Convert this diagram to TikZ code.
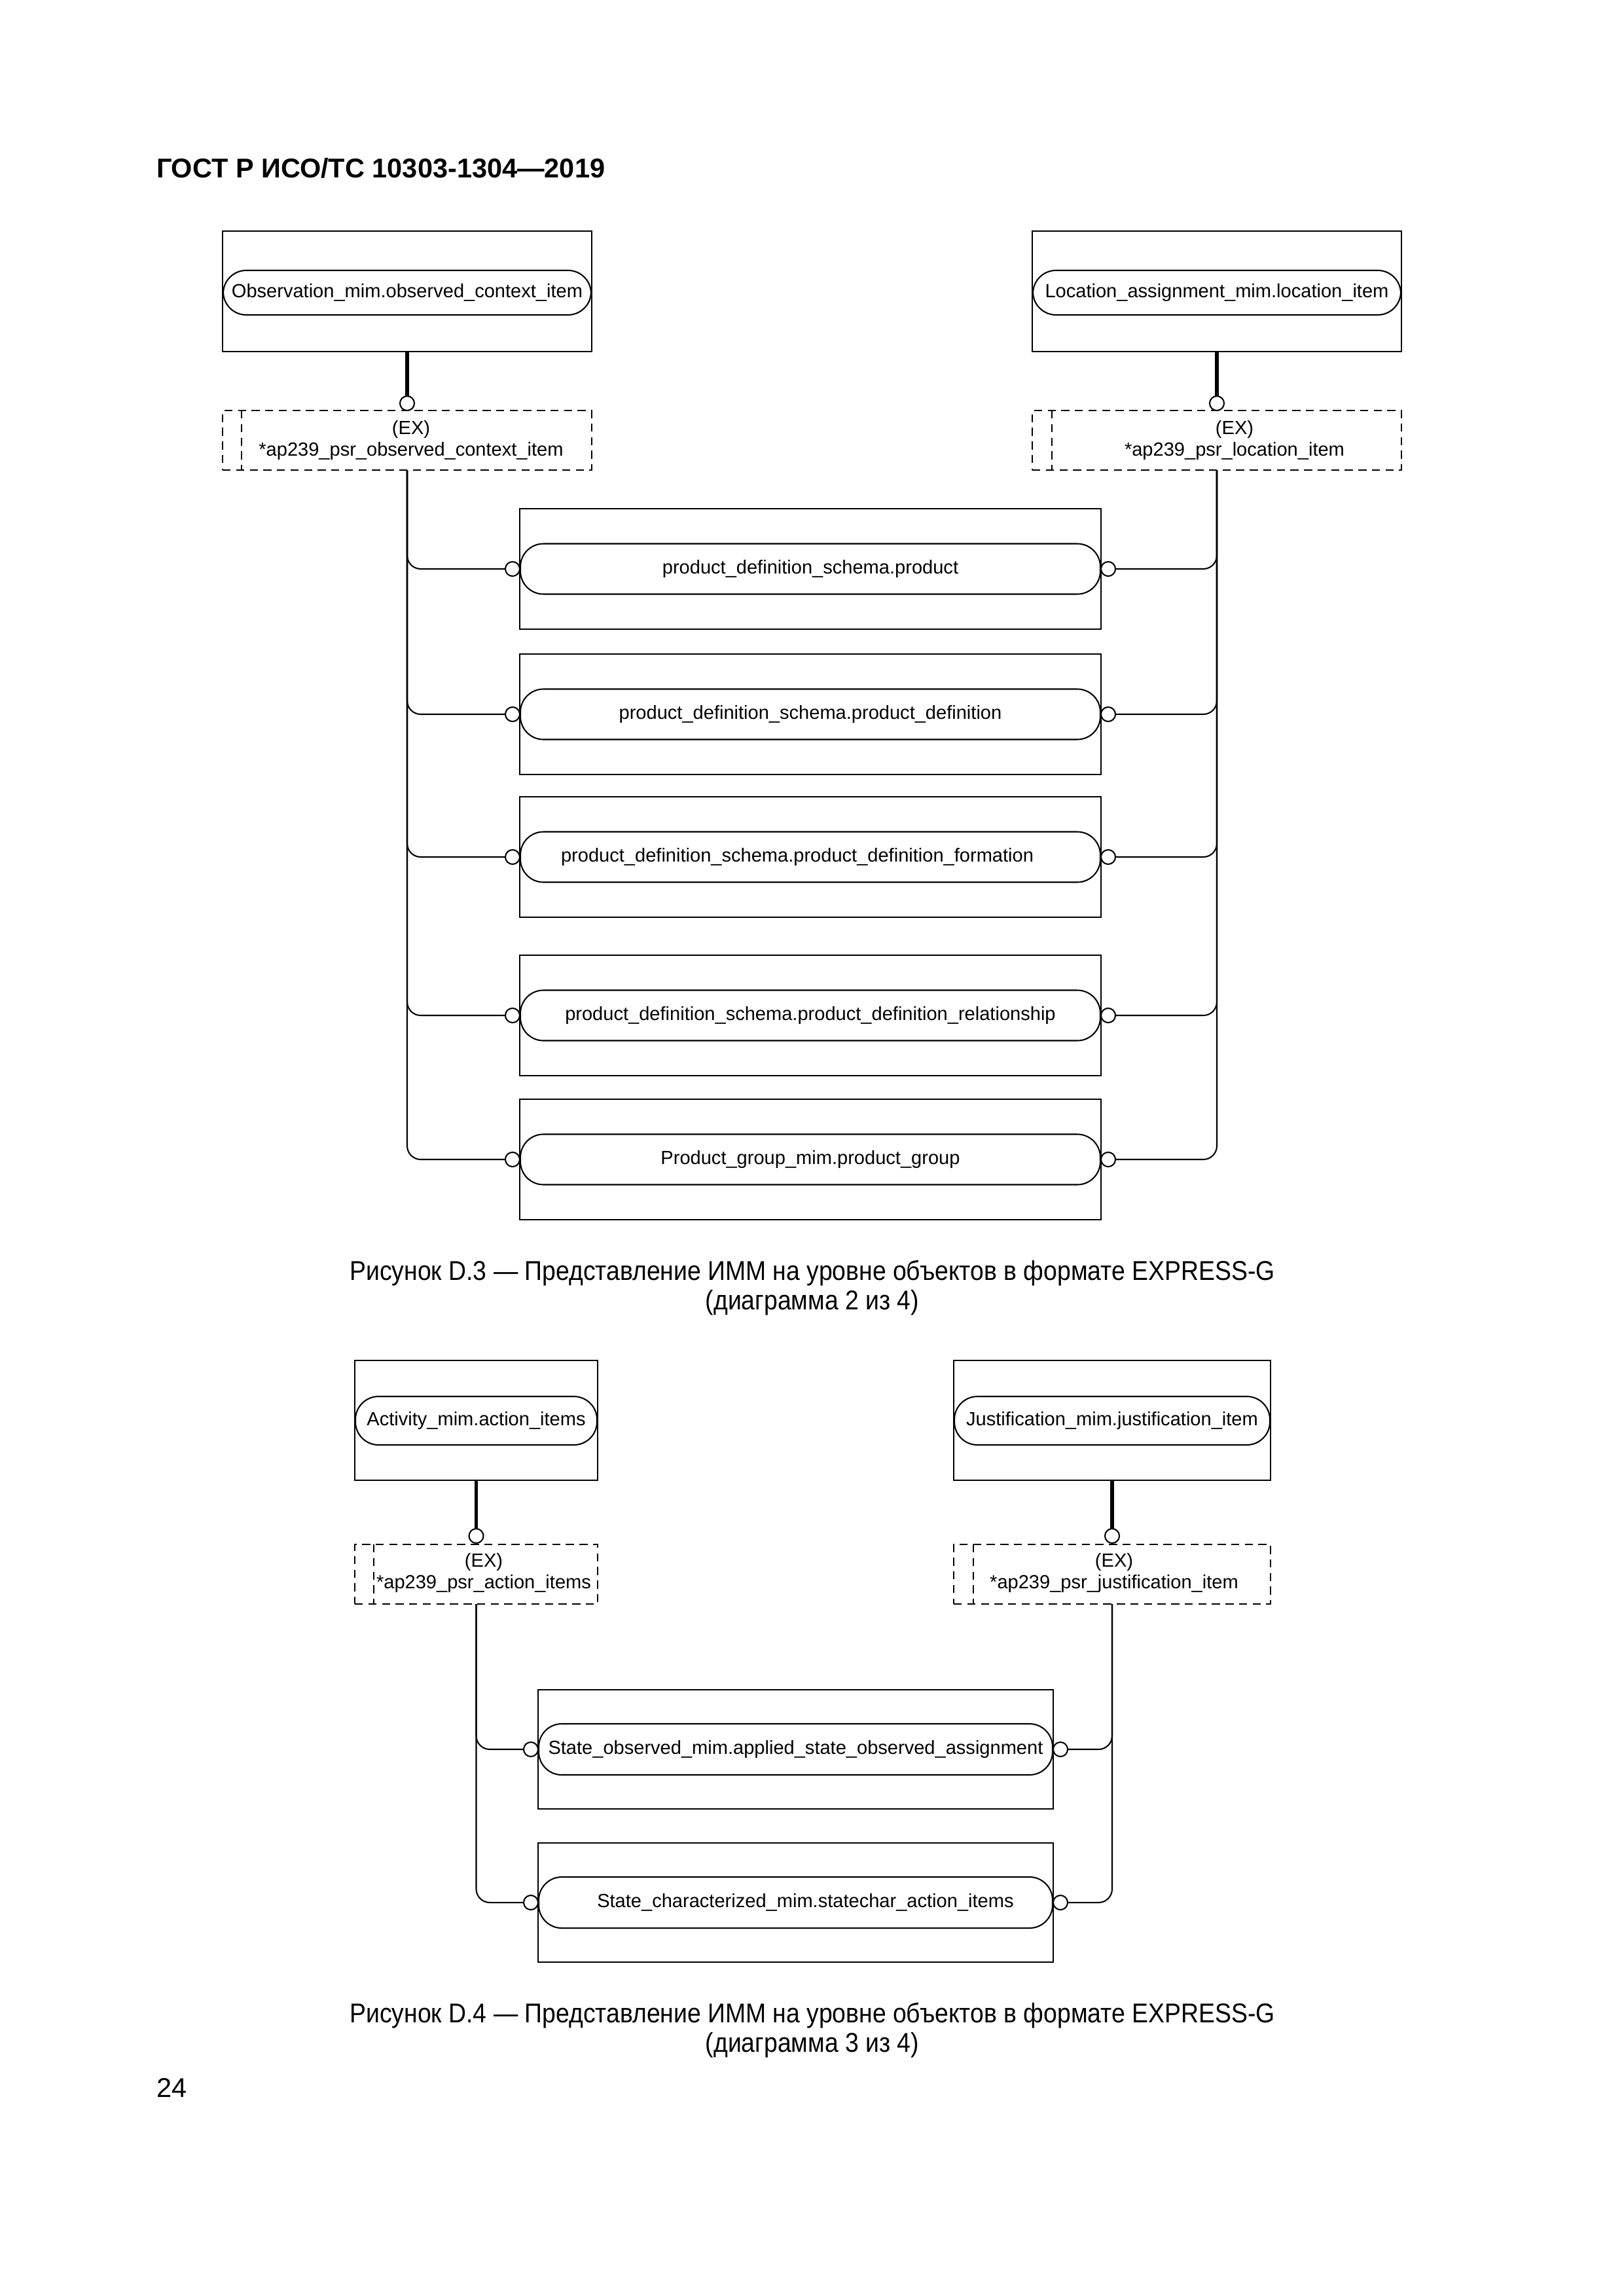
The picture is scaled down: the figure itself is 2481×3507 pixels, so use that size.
\documentclass[tikz,border=0pt]{standalone}
\usepackage{fontspec}
\usepackage{graphicx}
\setmainfont{Liberation Sans}
\newcommand{\pxl}{0.2409pt}
\newcommand{\narrowtxt}[1]{\scalebox{0.9}[1]{#1}}
\begin{document}
\begin{tikzpicture}[x=0.2409pt,y=-0.2409pt,
  every node/.style={inner sep=0pt, outer sep=0pt},
  ent/.style={draw, line width=0.6pt, rectangle},
  sel/.style={draw, line width=0.5pt, rounded corners=8.5pt, font=\fontsize{7pt}{8pt}\selectfont},
  exbox/.style={draw, line width=0.5pt, dash pattern=on 3pt off 2pt},
  exline/.style={line width=0.5pt, dash pattern=on 3pt off 2pt},
  extext/.style={font=\fontsize{7pt}{8pt}\selectfont},
  ring/.style={draw, circle, line width=0.5pt, minimum size=5.3pt, fill=white},
  thickconn/.style={line width=1.4pt},
  conn/.style={line width=0.5pt, rounded corners=5pt},
  capt/.style={font=\fontsize{10pt}{11pt}\selectfont},
  head/.style={font=\bfseries\fontsize{10pt}{11pt}\selectfont, anchor=west}
]
\useasboundingbox[fill=white] (0,0) rectangle (2481,3507);

\node[head] (hdr) at (239,257) {ГОСТ Р ИСО/ТС 10303-1304—2019};

% ---------------- diagram 1 ----------------
\node[ent, minimum width=564*\pxl, minimum height=184*\pxl] (obsB) at (622,445) {};
\node[sel, minimum width=562*\pxl, minimum height=68*\pxl] (obs) at (622,447) {Observation\_mim.observed\_context\_item};
\node[ent, minimum width=564*\pxl, minimum height=184*\pxl] (locB) at (1859,445) {};
\node[sel, minimum width=562*\pxl, minimum height=68*\pxl] (loc) at (1859,447) {Location\_assignment\_mim.location\_item};

\node[exbox, minimum width=564*\pxl, minimum height=91*\pxl] (obsX) at (622,672.5) {};
\draw[exline] ([xshift=29*\pxl]obsX.north west) -- ([xshift=29*\pxl]obsX.south west);
\node[extext] (obsEX) at (628,656) {(EX)};
\node[extext] (obsN) at (628,689) {*ap239\_psr\_observed\_context\_item};
\node[ring] (obsR) at (622,616) {};
\draw[thickconn] (obsB.south) -- (obsR.north);

\node[exbox, minimum width=564*\pxl, minimum height=91*\pxl] (locX) at (1859,672.5) {};
\draw[exline] ([xshift=30*\pxl]locX.north west) -- ([xshift=30*\pxl]locX.south west);
\node[extext] (locEX) at (1886,656) {(EX)};
\node[extext] (locN) at (1886,689) {*ap239\_psr\_location\_item};
\node[ring] (locR) at (1859,616) {};
\draw[thickconn] (locB.south) -- (locR.north);

\foreach \i/\yy/\txt in {
  1/869/{product\_definition\_schema.product},
  2/1091/{product\_definition\_schema.product\_definition},
  3/1309/{\hspace*{-9.6pt}product\_definition\_schema.product\_definition\_formation},
  4/1551/{product\_definition\_schema.product\_definition\_relationship},
  5/1771/{Product\_group\_mim.product\_group}} {
  \node[ent, minimum width=888*\pxl, minimum height=184*\pxl] (mB\i) at (1238,\yy) {};
  \node[sel, minimum width=886*\pxl, minimum height=77*\pxl] (m\i) at (1238,\yy) {\txt};
  \node[ring] (mL\i) at (783,\yy) {};
  \node[ring] (mR\i) at (1693,\yy) {};
  \draw[conn] (obsX.south) |- (mL\i.west);
  \draw[conn] (locX.south) |- (mR\i.east);
}

\node[capt] (cap1a) at (1241,1945) {\narrowtxt{Рисунок D.3 — Представление ИММ на уровне объектов в формате EXPRESS-G}};
\node[capt] (cap1b) at (1241,1990) {\narrowtxt{(диаграмма 2 из 4)}};

% ---------------- diagram 2 ----------------
\node[ent, minimum width=371*\pxl, minimum height=183*\pxl] (actB) at (727.5,2169.5) {};
\node[sel, minimum width=369*\pxl, minimum height=74*\pxl] (act) at (727.5,2170) {Activity\_mim.action\_items};
\node[ent, minimum width=484*\pxl, minimum height=183*\pxl] (jusB) at (1699,2169.5) {};
\node[sel, minimum width=482*\pxl, minimum height=74*\pxl] (jus) at (1699,2170) {Justification\_mim.justification\_item};

\node[exbox, minimum width=371*\pxl, minimum height=91*\pxl] (actX) at (727.5,2404.5) {};
\draw[exline] ([xshift=29*\pxl]actX.north west) -- ([xshift=29*\pxl]actX.south west);
\node[extext] (actEX) at (739,2386) {(EX)};
\node[extext] (actN) at (739,2419) {*ap239\_psr\_action\_items};
\node[ring] (actR) at (727.5,2346) {};
\draw[thickconn] (actB.south) -- (actR.north);

\node[exbox, minimum width=484*\pxl, minimum height=91*\pxl] (jusX) at (1699,2404.5) {};
\draw[exline] ([xshift=30*\pxl]jusX.north west) -- ([xshift=30*\pxl]jusX.south west);
\node[extext] (jusEX) at (1702,2386) {(EX)};
\node[extext] (jusN) at (1702,2419) {*ap239\_psr\_justification\_item};
\node[ring] (jusR) at (1699,2346) {};
\draw[thickconn] (jusB.south) -- (jusR.north);

\foreach \i/\yy/\txt in {
  1/2672/{State\_observed\_mim.applied\_state\_observed\_assignment},
  2/2906/{\hspace*{7.2pt}State\_characterized\_mim.statechar\_action\_items}} {
  \node[ent, minimum width=787*\pxl, minimum height=182*\pxl] (sB\i) at (1215.5,\yy) {};
  \node[sel, minimum width=785*\pxl, minimum height=78*\pxl] (s\i) at (1215.5,\yy) {\txt};
  \node[ring] (sL\i) at (811,\yy) {};
  \node[ring] (sR\i) at (1620,\yy) {};
  \draw[conn] (actX.south) |- (sL\i.west);
  \draw[conn] (jusX.south) |- (sR\i.east);
}

\node[capt] (cap2a) at (1241,3079) {\narrowtxt{Рисунок D.4 — Представление ИММ на уровне объектов в формате EXPRESS-G}};
\node[capt] (cap2b) at (1241,3124) {\narrowtxt{(диаграмма 3 из 4)}};

\node[capt, anchor=west] (pg) at (239,3189) {24};
\end{tikzpicture}
\end{document}
